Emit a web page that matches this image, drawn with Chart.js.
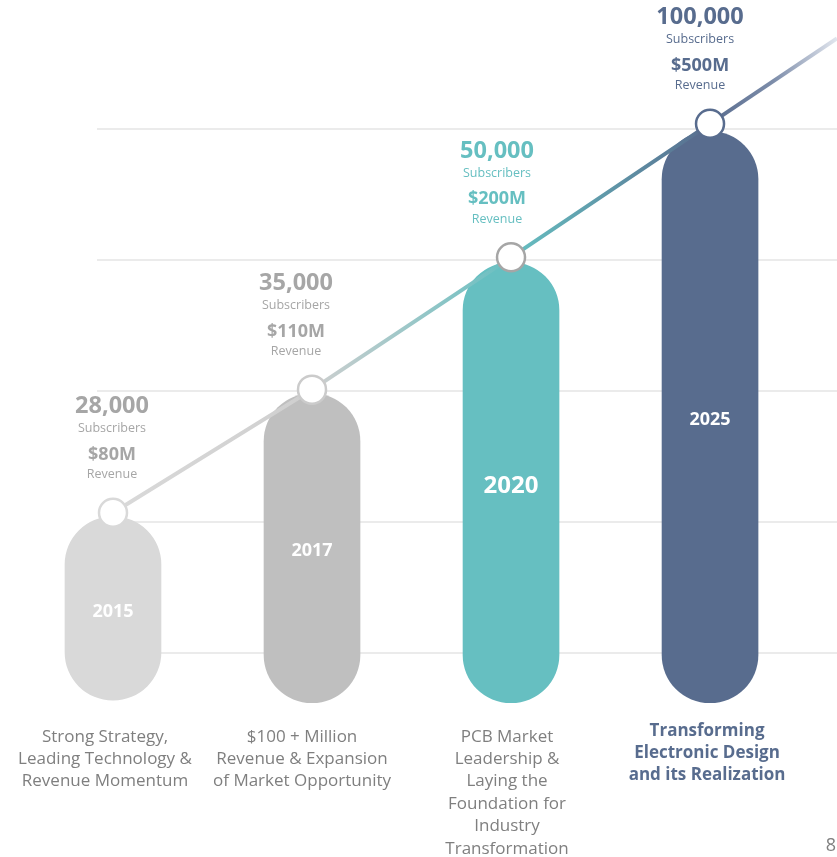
<!DOCTYPE html>
<html>
<head>
<meta charset="utf-8">
<script src="https://cdn.jsdelivr.net/npm/chart.js@4"></script>
<style>
  html, body { margin: 0; padding: 0; background: #fff; }
  #wrap { width: 837px; height: 857px; position: relative; }
</style>
</head>
<body>
<div id="wrap"><canvas id="roadmap"></canvas></div>
<script>
// milestones, in "grid step" units on the hidden y scale
const years = ["2015", "2017", "2020", "2025"];
const barBase = [0.64, 0.62, 0.62, 0.62];
const barTop = [2.04, 2.98, 3.98, 4.98];
const milestone = [2.07, 3.01, 4.02, 5.04];
const subscribers = ["28,000", "35,000", "50,000", "100,000"];
const revenue = ["$80M", "$110M", "$200M", "$500M"];
const captions = [
  ["Strong Strategy,", "Leading Technology &", "Revenue Momentum"],
  ["$100 + Million", "Revenue & Expansion", "of Market Opportunity"],
  ["PCB Market", "Leadership &", "Laying the", "Foundation for", "Industry", "Transformation"],
  ["Transforming", "Electronic Design", "and its Realization"]
];
const gridTicks = [1, 2, 3, 4, 5];
const pageNumber = "8";

const FONT = "'Open Sans', 'Noto Sans', sans-serif";
const barColors = ["#d9d9d9", "#bfbfbf", "#66bfc1", "#586c8e"];
const ringColors = ["#d9d9d9", "#cbcbcb", "#a6a6a6", "#586c8e"];
const labelColors = ["#a6a6a6", "#a6a6a6", "#66bfc1", "#586c8e"];
const yearSizes = [18, 18, 24, 18];
const labelShift = [-1, -16, -14, -10];
const captionShift = [-8, -10, -4, -3];

function lineGradient(context) {
  const chart = context.chart;
  const xs = chart.scales.x;
  if (!chart.chartArea || !xs) return "#bfbfbf";
  const x0 = xs.getPixelForValue(0), x3 = xs.getPixelForValue(years.length - 1);
  if (!isFinite(x0) || !isFinite(x3)) return "#bfbfbf";
  const g = chart.ctx.createLinearGradient(x0, 0, x3, 0);
  g.addColorStop(0, "#d9d9d9");
  g.addColorStop(0.33, "#cfcfcf");
  g.addColorStop(0.67, "#66bfc1");
  g.addColorStop(1, "#586c8e");
  return g;
}

const backdrop = {
  id: "backdrop",
  beforeDatasetsDraw(chart) {
    const { ctx, chartArea, scales } = chart;
    ctx.save();
    ctx.strokeStyle = "#ebebeb";
    ctx.lineWidth = 2;
    gridTicks.forEach(t => {
      const y = Math.round(scales.y.getPixelForValue(t));
      ctx.beginPath();
      ctx.moveTo(chartArea.left, y);
      ctx.lineTo(chartArea.right, y);
      ctx.stroke();
    });
    // trend continues past the last milestone and fades out
    const pts = chart.getDatasetMeta(0).data;
    const a = pts[pts.length - 2], b = pts[pts.length - 1];
    const slope = (b.y - a.y) / (b.x - a.x);
    const xe = chartArea.right;
    const ye = b.y + slope * (xe - b.x);
    const g = ctx.createLinearGradient(b.x, 0, xe, 0);
    g.addColorStop(0, "#586c8e");
    g.addColorStop(0.5, "#7d8daa");
    g.addColorStop(1, "#e2e6ee");
    ctx.strokeStyle = g;
    ctx.lineWidth = 4;
    ctx.beginPath();
    ctx.moveTo(b.x, b.y);
    ctx.lineTo(xe, ye);
    ctx.stroke();
    ctx.restore();
  },
  afterDatasetsDraw(chart) {
    const { ctx } = chart;
    const pts = chart.getDatasetMeta(0).data;
    const bars = chart.getDatasetMeta(1).data;
    ctx.save();
    ctx.textAlign = "center";
    ctx.textBaseline = "middle";
    const captionTop = Math.max(...bars.map(b => b.base));
    years.forEach((yr, i) => {
      const p = pts[i], bar = bars[i];
      const lx = bar.x + labelShift[i];
      ctx.fillStyle = labelColors[i];
      ctx.font = "bold 23.5px " + FONT;
      ctx.fillText(subscribers[i], lx, p.y - 106);
      ctx.font = "12.5px " + FONT;
      ctx.fillText("Subscribers", lx, p.y - 84);
      ctx.font = "bold 18px " + FONT;
      ctx.fillText(revenue[i], lx, p.y - 58);
      ctx.font = "12.5px " + FONT;
      ctx.fillText("Revenue", lx, p.y - 38);

      ctx.fillStyle = "#ffffff";
      ctx.font = "bold " + yearSizes[i] + "px " + FONT;
      ctx.fillText(yr, bar.x, (bar.y + bar.base) / 2 + 3);

      const bold = i === years.length - 1;
      ctx.fillStyle = bold ? "#586c8e" : "#7f7f7f";
      ctx.font = (bold ? "bold " : "") + "17px " + FONT;
      const cx = bar.x + captionShift[i];
      const top = captionTop + (bold ? 28 : 34);
      captions[i].forEach((line, k) => ctx.fillText(line, cx, top + k * 22.4));
    });
    ctx.fillStyle = "#7f7f7f";
    ctx.font = "18px " + FONT;
    ctx.fillText(pageNumber, chart.width - 6, chart.height - 11);
    ctx.restore();
  }
};

new Chart(document.getElementById("roadmap"), {
  data: {
    datasets: [
      {
        type: "line",
        order: 0,
        data: milestone.map((v, i) => ({ x: i, y: v })),
        borderColor: lineGradient,
        borderWidth: 4,
        tension: 0,
        pointRadius: 14,
        pointHoverRadius: 14,
        pointBorderWidth: 2.5,
        pointBackgroundColor: "#ffffff",
        pointBorderColor: ringColors,
        clip: false
      },
      {
        type: "bar",
        order: 1,
        data: barTop.map((v, i) => ({ x: i, y: [barBase[i], v] })),
        backgroundColor: barColors,
        barThickness: 96,
        borderRadius: 48,
        borderSkipped: false,
        clip: false
      }
    ]
  },
  options: {
    responsive: true,
    maintainAspectRatio: false,
    animation: false,
    events: [],
    layout: { autoPadding: false, padding: { left: 97, right: 0, top: 11, bottom: 73 } },
    plugins: { legend: { display: false }, tooltip: { enabled: false } },
    scales: {
      x: { type: "linear", offset: false, min: -0.0804, max: 3.638, display: false },
      y: { type: "linear", min: 0, max: 5.9, display: false }
    }
  },
  plugins: [backdrop]
});
</script>
</body>
</html>
